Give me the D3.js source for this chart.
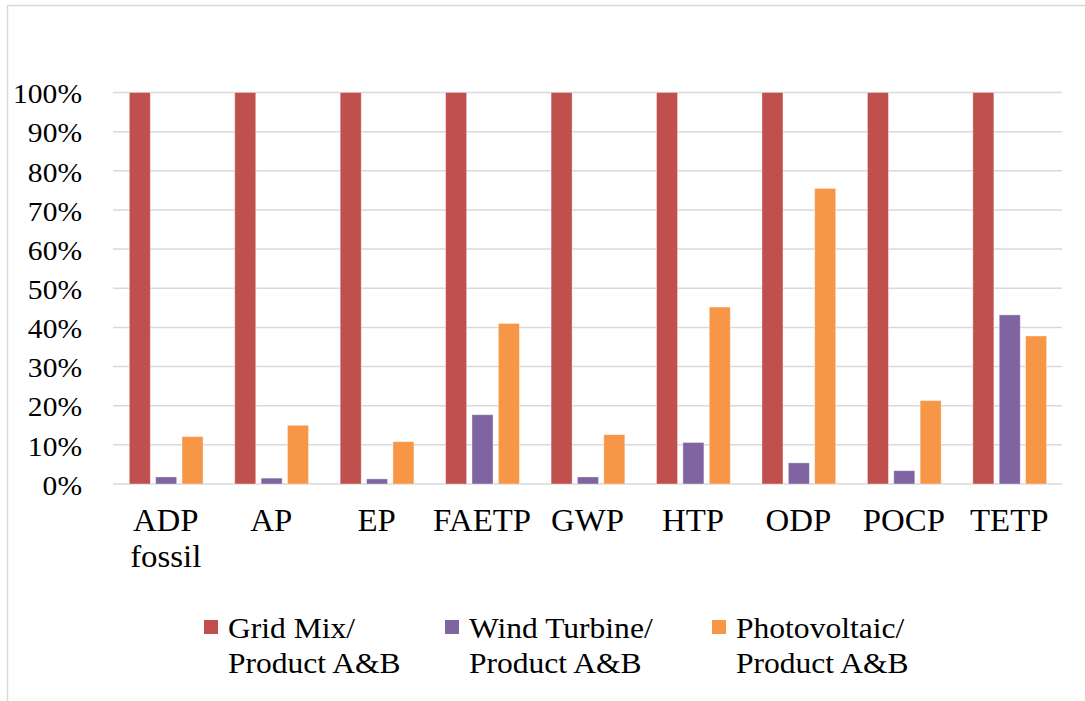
<!DOCTYPE html>
<html>
<head>
<meta charset="utf-8">
<script src="https://cdn.jsdelivr.net/npm/d3@7"></script>
<style>
  html, body { margin: 0; padding: 0; background: #fff; }
  svg { display: block; }
  text { font-family: "Liberation Serif", "Times New Roman", serif; fill: #000; }
</style>
</head>
<body>
<svg id="chart" width="1085" height="701"></svg>
<script>
const categories = [["ADP", "fossil"], ["AP"], ["EP"], ["FAETP"], ["GWP"], ["HTP"], ["ODP"], ["POCP"], ["TETP"]];
const seriesNames = [["Grid Mix/", "Product A&B"], ["Wind Turbine/", "Product A&B"], ["Photovoltaic/", "Product A&B"]];
const gridMix = [100, 100, 100, 100, 100, 100, 100, 100, 100];
const windTurbine = [1.8, 1.5, 1.3, 17.7, 1.8, 10.6, 5.4, 3.4, 43.2];
const photovoltaic = [12.1, 15.0, 10.8, 41.0, 12.6, 45.2, 75.5, 21.3, 37.8];
const yTicks = [0, 10, 20, 30, 40, 50, 60, 70, 80, 90, 100];
const colors = ["#c0504d", "#8064a2", "#f79646"];

(function () {
const series = [gridMix, windTurbine, photovoltaic];
const svg = d3.select("#chart");
const SX = 1.07;

// chart border
svg.append("rect").attr("x", 7.5).attr("y", 5.5).attr("width", 1100).attr("height", 720)
  .attr("fill", "none").attr("stroke", "#d9d9d9").attr("stroke-width", 1.5);

const pLeft = 113, pRight = 1062, pTop = 92.5, pBottom = 484;
const x = d3.scaleBand().domain(d3.range(categories.length)).range([pLeft, pRight]).padding(0);
const xInner = d3.scaleBand().domain(d3.range(series.length))
  .range([16.3, x.bandwidth() - 15.4]).paddingInner(0.203).paddingOuter(0);
const y = d3.scaleLinear().domain([0, 100]).range([pBottom, pTop]);

// gridlines
svg.append("g").selectAll("line").data(yTicks).join("line")
  .attr("x1", pLeft).attr("x2", pRight)
  .attr("y1", d => y(d)).attr("y2", d => y(d))
  .attr("stroke", "#d9d9d9").attr("stroke-width", 1.5);

// y axis labels
const yAxis = d3.axisLeft(y).tickValues(yTicks).tickSize(0).tickFormat(d => d + "%");
const yg = svg.append("g").attr("transform", `translate(${pLeft},0)`).call(yAxis);
yg.select(".domain").remove();
yg.selectAll(".tick text")
  .attr("x", null).attr("dy", null)
  .attr("transform", `translate(-31,10.2) scale(${SX},1)`)
  .attr("text-anchor", "end")
  .style("font-family", "'Liberation Serif', 'Times New Roman', serif")
  .style("font-size", "27.6px").attr("fill", "#000");

// bars
const groups = svg.append("g").selectAll("g").data(categories).join("g")
  .attr("transform", (d, i) => `translate(${x(i)},0)`);
groups.selectAll("rect").data((d, i) => series.map((s, j) => ({ v: s[i], j })))
  .join("rect")
  .attr("x", d => xInner(d.j))
  .attr("width", xInner.bandwidth())
  .attr("y", d => y(d.v))
  .attr("height", d => y(0) - y(d.v))
  .attr("fill", d => colors[d.j])
  .attr("stroke", "#ffffff").attr("stroke-opacity", 0.45).attr("stroke-width", 0.8);

// x labels
const xl = svg.append("g").selectAll("g").data(categories).join("g");
xl.each(function (lines, i) {
  const g = d3.select(this);
  lines.forEach((t, k) => {
    g.append("text")
      .attr("transform", `translate(${x(i) + x.bandwidth() / 2},${531 + k * 35.7}) scale(${SX},1)`)
      .attr("text-anchor", "middle")
      .style("font-size", "30.7px")
      .text(t);
  });
});

// legend
const legendX = [204, 445, 712];
const lg = svg.append("g").selectAll("g").data(seriesNames).join("g");
lg.each(function (lines, j) {
  const g = d3.select(this);
  g.append("rect").attr("x", legendX[j]).attr("y", 620).attr("width", 14).attr("height", 14)
    .attr("fill", colors[j]);
  lines.forEach((t, k) => {
    g.append("text")
      .attr("transform", `translate(${legendX[j] + 24},${638 + k * 35}) scale(${SX},1)`)
      .style("font-size", "29.5px")
      .text(t);
  });
});
})();
</script>
</body>
</html>
